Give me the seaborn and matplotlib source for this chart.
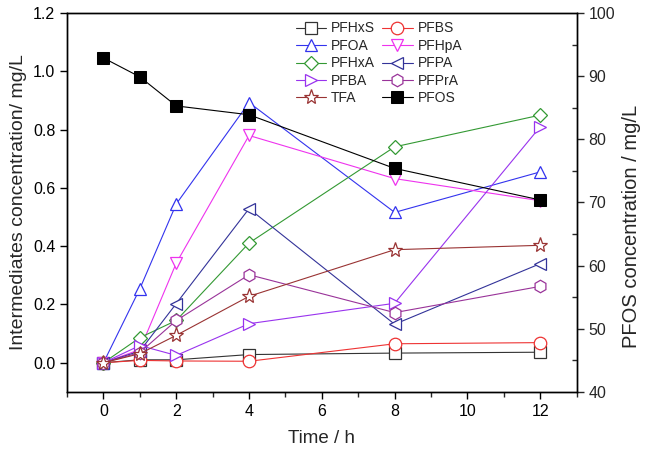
import matplotlib
matplotlib.use("Agg")
import matplotlib.pyplot as plt
from matplotlib.ticker import MultipleLocator
import seaborn as sns
import pandas as pd

time_h = [0, 1, 2, 4, 8, 12]
pfhxs = [0.0, 0.010, 0.010, 0.028, 0.033, 0.036]
pfbs = [0.0, 0.008, 0.006, 0.005, 0.065, 0.069]
pfoa = [0.0, 0.254, 0.545, 0.893, 0.516, 0.655]
pfhpa = [0.0, 0.045, 0.342, 0.780, 0.632, 0.556]
pfhxa = [0.0, 0.086, 0.145, 0.411, 0.741, 0.850]
pfpa = [0.0, 0.040, 0.203, 0.529, 0.132, 0.340]
pfba = [0.0, 0.059, 0.025, 0.134, 0.204, 0.810]
pfpra = [0.0, 0.035, 0.145, 0.302, 0.172, 0.262]
tfa = [0.0, 0.031, 0.094, 0.228, 0.388, 0.403]
pfos = [92.9, 89.9, 85.3, 83.9, 75.4, 70.4]

series = [
    ("PFHxS", pfhxs, "#333333", "s"),
    ("PFBS", pfbs, "#ee3333", "o"),
    ("PFOA", pfoa, "#3333ee", "^"),
    ("PFHpA", pfhpa, "#ee33ee", "v"),
    ("PFHxA", pfhxa, "#339933", "D"),
    ("PFPA", pfpa, "#333399", "<"),
    ("PFBA", pfba, "#9933ee", ">"),
    ("PFPrA", pfpra, "#993399", "h"),
    ("TFA", tfa, "#993333", "*"),
]

sns.set_style("ticks")
plt.rcParams["font.family"] = ["Liberation Sans", "DejaVu Sans"]

fig = plt.figure(figsize=(6.45, 4.53), dpi=100)
ax = fig.add_axes([0.104, 0.135, 0.790, 0.836])
ax2 = ax.twinx()

handles = {}
for name, vals, col, mk in series:
    df = pd.DataFrame({"t": time_h, "v": vals})
    ms = 9
    if mk == "D":
        ms = 7.5
    if mk == "*":
        ms = 11
    if mk == "s":
        ms = 8
    sns.lineplot(data=df, x="t", y="v", ax=ax, color=col, marker=mk,
                 markersize=ms, markerfacecolor="white", markeredgecolor=col,
                 markeredgewidth=0.9, linewidth=0.8, label=name, legend=False)
    handles[name] = ax.get_lines()[-1]

dfp = pd.DataFrame({"t": time_h, "v": pfos})
sns.lineplot(data=dfp, x="t", y="v", ax=ax2, color="black", marker="s",
             markersize=8, markerfacecolor="black", markeredgecolor="black",
             linewidth=0.8, label="PFOS", legend=False)
handles["PFOS"] = ax2.get_lines()[-1]

ax.set_xlim(-1, 13)
ax.set_ylim(-0.1, 1.2)
ax2.set_ylim(40, 100)
ax.xaxis.set_major_locator(MultipleLocator(2))
ax.xaxis.set_minor_locator(MultipleLocator(1))
ax.yaxis.set_major_locator(MultipleLocator(0.2))
ax.yaxis.set_major_formatter(plt.FormatStrFormatter("%.1f"))
ax2.yaxis.set_major_locator(MultipleLocator(10))
ax2.yaxis.set_minor_locator(MultipleLocator(5))

for a in (ax, ax2):
    for s in a.spines.values():
        s.set_linewidth(1.0)
        s.set_color("black")
ax.tick_params(axis="both", which="major", direction="out", length=5, width=1,
               labelsize=11.5, colors="black")
ax.tick_params(axis="x", which="minor", direction="out", length=3.5, width=1)
ax2.tick_params(axis="y", which="major", direction="out", length=5, width=1,
                labelsize=11.5)
ax2.tick_params(axis="y", which="minor", direction="in", length=3.5, width=1)

ax.set_xlabel("Time / h", fontsize=13.5, labelpad=8)
ax.set_ylabel("Intermediates concentration/ mg/L", fontsize=14)
ax2.set_ylabel("PFOS concentration / mg/L", fontsize=14.5)
ax2.yaxis.set_label_coords(1.089, 0.438)

order = ["PFHxS", "PFOA", "PFHxA", "PFBA", "TFA",
         "PFBS", "PFHpA", "PFPA", "PFPrA", "PFOS"]
leg = ax2.legend([handles[n] for n in order], order, ncol=2, frameon=False,
                 loc="upper left", bbox_to_anchor=(0.432, 1.0), fontsize=10,
                 handlelength=2.2, columnspacing=0.5, labelspacing=0.25,
                 handletextpad=0.36, borderaxespad=0.2)

fig.savefig("out.png", dpi=100)
